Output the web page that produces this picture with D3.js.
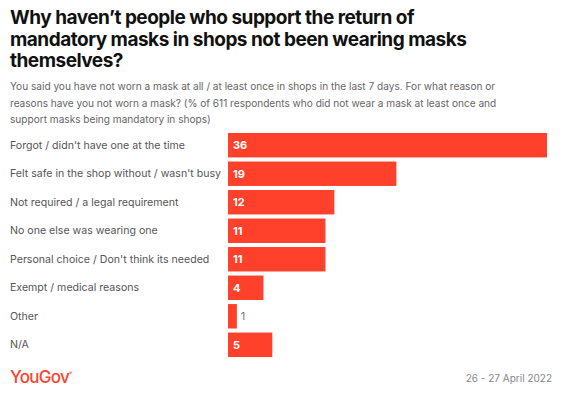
<!DOCTYPE html>
<html>
<head>
<meta charset="utf-8">
<script src="https://cdn.jsdelivr.net/npm/d3@7"></script>
<style>
  body { margin: 0; background: #fff; }
  svg { display: block; font-family: Inter, "Open Sans", sans-serif; }
</style>
</head>
<body>
<div id="container"></div>
<script>
const WIDTH = 562,
  HEIGHT = 397,
  LEFT = 228,   // bars start here, labels sit to the left
  RIGHT = 547,
  TOP = 133,
  STEP = 28;

const categories = [
  "Forgot / didn't have one at the time",
  "Felt safe in the shop without / wasn't busy",
  "Not required / a legal requirement",
  "No one else was wearing one",
  "Personal choice / Don't think its needed",
  "Exempt / medical reasons",
  "Other",
  "N/A"
];
const values = [36, 19, 12, 11, 11, 4, 1, 5];

const titleLines = [
  "Why haven\u2019t people who support the return of",
  "mandatory masks in shops not been wearing masks",
  "themselves?"
];
const subtitleLines = [
  "You said you have not worn a mask at all / at least once in shops in the last 7 days. For what reason or",
  "reasons have you not worn a mask? (% of 611 respondents who did not wear a mask at least once and",
  "support masks being mandatory in shops)"
];

const RED = "#ff412c";

const svg = d3.select("#container")
  .append("svg")
  .attr("width", WIDTH)
  .attr("height", HEIGHT);

// Title + subtitle
svg.append("g")
  .selectAll("text")
  .data(titleLines)
  .join("text")
  .attr("x", 10)
  .attr("y", (d, i) => 24 + i * 21.5)
  .style("font-size", "19px")
  .style("font-weight", 700)
  .style("letter-spacing", "-0.5px")
  .style("fill", "#111")
  .text(d => d);

svg.append("g")
  .selectAll("text")
  .data(subtitleLines)
  .join("text")
  .attr("x", 10)
  .attr("y", (d, i) => 90 + i * 16.5)
  .style("font-size", "10.1px")
  .style("fill", "#666")
  .text(d => d);

// Scales
const xScale = d3.scaleLinear()
  .domain([0, d3.max(values)])
  .range([LEFT, RIGHT]);

const yScale = d3.scaleBand()
  .domain(categories)
  .range([TOP, TOP + STEP * categories.length])
  .paddingInner(4 / 28)
  .paddingOuter(0)
  .align(0);

const data = categories.map((c, i) => ({ cat: c, val: values[i] }));

// Category labels
svg.append("g")
  .selectAll(".cat")
  .data(data)
  .join("text")
  .attr("class", "cat")
  .attr("x", 10)
  .attr("y", d => yScale(d.cat) + yScale.bandwidth() / 2)
  .attr("dy", "0.35em")
  .style("font-size", "10.6px")
  .style("fill", "#555")
  .text(d => d.cat);

// Bars
svg.append("g")
  .selectAll(".bar")
  .data(data)
  .join("rect")
  .attr("class", "bar")
  .attr("x", xScale(0))
  .attr("y", d => yScale(d.cat))
  .attr("width", d => xScale(d.val) - xScale(0))
  .attr("height", yScale.bandwidth())
  .style("fill", RED);

// Value labels: inside when the bar is wide enough, else just after it
svg.append("g")
  .selectAll(".val")
  .data(data)
  .join("text")
  .attr("class", "val")
  .attr("x", d => {
    const w = xScale(d.val) - xScale(0);
    return w > 20 ? xScale(0) + 5 : xScale(d.val) + 4;
  })
  .attr("y", d => yScale(d.cat) + yScale.bandwidth() / 2)
  .attr("dy", "0.35em")
  .style("font-size", "11px")
  .style("font-weight", d => (xScale(d.val) - xScale(0) > 20 ? 700 : 400))
  .style("fill", d => (xScale(d.val) - xScale(0) > 20 ? "#fff" : "#777"))
  .text(d => d.val);

// Footer
const logo = svg.append("text")
  .attr("x", 10)
  .attr("y", 383)
  .style("font-size", "17px")
  .style("font-weight", 500)
  .style("letter-spacing", "-0.7px")
  .style("fill", RED)
  .text("YouGov");
logo.append("tspan")
  .attr("dy", -8)
  .style("font-size", "5px")
  .text("\u00ae");

svg.append("text")
  .attr("x", 552)
  .attr("y", 382)
  .attr("text-anchor", "end")
  .style("font-size", "10px")
  .style("fill", "#888")
  .text("26 - 27 April 2022");
</script>
</body>
</html>
